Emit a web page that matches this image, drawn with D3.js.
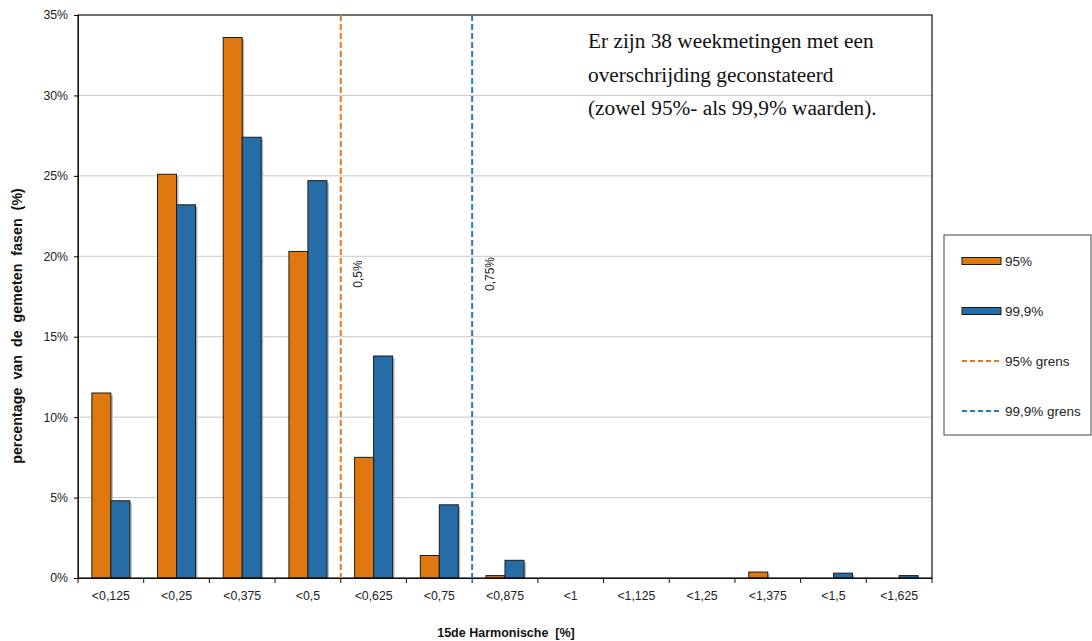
<!DOCTYPE html>
<html><head><meta charset="utf-8">
<script src="https://cdn.jsdelivr.net/npm/d3@7"></script>
<style>body{margin:0;background:#fff}svg{display:block}text{font-family:"Liberation Sans",Arial,sans-serif;white-space:pre}</style>
</head><body><svg id="c" width="1092" height="641"></svg>
<script>
const categories = ["<0,125","<0,25","<0,375","<0,5","<0,625","<0,75","<0,875","<1","<1,125","<1,25","<1,375","<1,5","<1,625"];
const series95 = [11.5,25.1,33.6,20.3,7.5,1.4,0.15,0,0,0,0.37,0,0];
const series999 = [4.8,23.2,27.4,24.7,13.8,4.55,1.1,0,0,0,0,0.3,0.15];
const seriesNames = ["95%","99,9%"];
const yTicks = [0,5,10,15,20,25,30,35];
const limits = [{name:"95% grens", after:"<0,5", label:"0,5%"},{name:"99,9% grens", after:"<0,75", label:"0,75%"}];
const colors = {"95%":"#E07810","99,9%":"#266CA6"};
const limitColors = ["#E97A1A","#2A78BE"];
const noteLines = ["Er zijn 38 weekmetingen met een","overschrijding geconstateerd","(zowel 95%- als 99,9% waarden)."];

const svg = d3.select("#c");
const m = {l:78, t:15, r:932, b:578};
const x = d3.scaleBand().domain(categories).range([m.l, m.r]).paddingInner(0).paddingOuter(0);
const x1 = d3.scaleBand().domain(seriesNames).range([0, x.bandwidth()]).paddingInner(0).paddingOuter(0.73);
const y = d3.scaleLinear().domain([0,35]).range([m.b, m.t]);

// gridlines
svg.append("g").selectAll("line").data(yTicks.filter(d=>d>0 && d<35)).join("line")
  .attr("x1",m.l).attr("x2",m.r).attr("y1",d=>y(d)).attr("y2",d=>y(d))
  .attr("stroke","#c8c8c8").attr("stroke-width",1);

// bars
const data = categories.map((c,i)=>({c, vals:[{s:"95%",v:series95[i]},{s:"99,9%",v:series999[i]}]}));
const g = svg.append("g").selectAll("g").data(data).join("g").attr("transform",d=>`translate(${x(d.c)},0)`);
g.selectAll("rect.sh").data(d=>d.vals.filter(v=>v.v>0)).join("rect").attr("class","sh")
  .attr("x",d=>x1(d.s)+2).attr("width",x1.bandwidth())
  .attr("y",d=>y(d.v)+2).attr("height",d=>Math.max(0,y(0)-y(d.v)-2))
  .attr("fill","#bbb");
g.selectAll("rect.b").data(d=>d.vals.filter(v=>v.v>0)).join("rect").attr("class","b")
  .attr("x",d=>x1(d.s)).attr("width",x1.bandwidth())
  .attr("y",d=>y(d.v)).attr("height",d=>y(0)-y(d.v))
  .attr("fill",d=>colors[d.s]).attr("stroke","#1a1a1a").attr("stroke-width",1);

// frame
svg.append("rect").attr("x",m.l).attr("y",m.t).attr("width",m.r-m.l).attr("height",m.b-m.t)
  .attr("fill","none").attr("stroke","#111").attr("stroke-width",1.2);

// y axis
const ya = svg.append("g").attr("transform",`translate(${m.l},0)`)
  .call(d3.axisLeft(y).tickValues(yTicks).tickSize(4).tickPadding(6).tickFormat(d=>d+"%"));
ya.select(".domain").attr("stroke","#111");
ya.selectAll("text").attr("font-size",12.3).attr("fill","#222").style("font-family","Liberation Sans, Arial");

// x axis
const xa = svg.append("g").attr("transform",`translate(0,${m.b})`)
  .call(d3.axisBottom(x).tickSize(0).tickPadding(13));
xa.select(".domain").attr("stroke","#111");
xa.selectAll("text").attr("font-size",12.3).attr("fill","#222").style("font-family","Liberation Sans, Arial");
svg.append("g").selectAll("line").data(categories.concat(["end"])).join("line")
  .attr("x1",(d,i)=>m.l+i*x.bandwidth()).attr("x2",(d,i)=>m.l+i*x.bandwidth())
  .attr("y1",m.b).attr("y2",m.b+5).attr("stroke","#111");

// limit lines
limits.forEach((L,i)=>{
  const lx = x(L.after)+x.bandwidth();
  svg.append("line").attr("x1",lx).attr("x2",lx).attr("y1",m.t).attr("y2",m.b)
    .attr("stroke",limitColors[i]).attr("stroke-width",2).attr("stroke-dasharray","6,3");
  svg.append("text").attr("transform",`translate(${lx+21.5},274) rotate(-90)`)
    .attr("text-anchor","middle").attr("font-size",12).attr("fill","#222").text(L.label);
});

// note
svg.append("g").selectAll("text").data(noteLines).join("text")
  .attr("x",588).attr("y",(d,i)=>48+i*33.5)
  .attr("font-size",21.3).style("font-family","Liberation Serif, Times New Roman, serif").attr("fill","#111").text(d=>d);

// titles
svg.append("text").attr("transform","translate(22,326) rotate(-90)").attr("text-anchor","middle")
  .attr("font-size",14.3).attr("font-weight","bold").attr("fill","#111").text("percentage  van  de  gemeten  fasen  (%)");
svg.append("text").attr("x",506).attr("y",637).attr("text-anchor","middle")
  .attr("font-size",12.5).attr("font-weight","bold").attr("fill","#111").text("15de Harmonische  [%]");

// legend
svg.append("rect").attr("x",944).attr("y",235).attr("width",147).attr("height",200)
  .attr("fill","#fff").attr("stroke","#444").attr("stroke-width",1);
const leg = [{t:"95%",type:"bar",c:colors["95%"]},{t:"99,9%",type:"bar",c:colors["99,9%"]},
  {t:"95% grens",type:"line",c:limitColors[0]},{t:"99,9% grens",type:"line",c:limitColors[1]}];
leg.forEach((d,i)=>{
  const cy = 261+i*50;
  if(d.type==="bar") svg.append("rect").attr("x",962).attr("y",cy-3.5).attr("width",39).attr("height",7)
    .attr("fill",d.c).attr("stroke","#1a1a1a").attr("stroke-width",1);
  else svg.append("line").attr("x1",962).attr("x2",1001).attr("y1",cy).attr("y2",cy)
    .attr("stroke",d.c).attr("stroke-width",2).attr("stroke-dasharray","5,3");
  svg.append("text").attr("x",1005).attr("y",cy+5).attr("font-size",13.5).attr("fill","#222").text(d.t);
});
</script></body></html>
